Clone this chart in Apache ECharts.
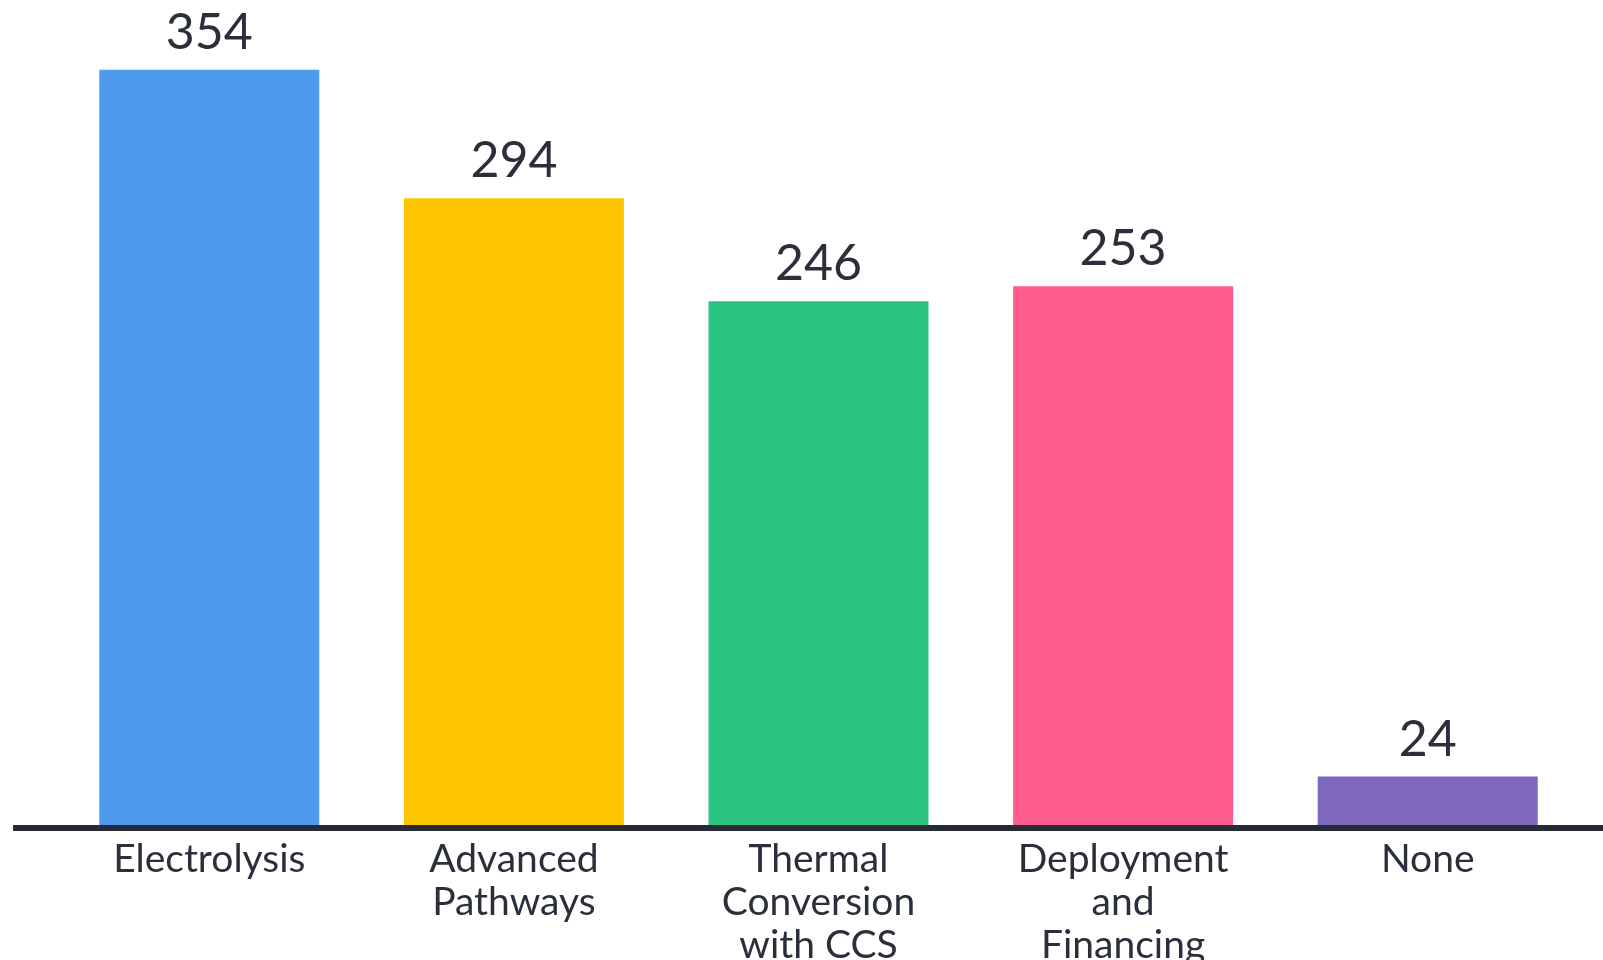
<!DOCTYPE html>
<html>
<head>
<meta charset="utf-8">
<script src="https://cdn.jsdelivr.net/npm/echarts@6/dist/echarts.min.js"></script>
<style>
html,body{margin:0;padding:0;background:#fff;}
#chart{width:1603px;height:960px;}
</style>
</head>
<body>
<div id="chart"></div>
<script>
const categories = ["Electrolysis", "Advanced\nPathways", "Thermal\nConversion\nwith CCS", "Deployment\nand\nFinancing", "None"];
const values = [354, 294, 246, 253, 24];
const barColors = ["#4e9aef", "#fdc500", "#2ac37f", "#ff5b8c", "#7d68bd"];

const textColor = "#2a2f3b";
const chart = echarts.init(document.getElementById('chart'));
chart.setOption({
  backgroundColor: '#ffffff',
  animation: false,
  grid: { left: 57, right: 23, top: 57, bottom: 132, containLabel: false, outerBoundsMode: 'none' },
  xAxis: {
    type: 'category',
    data: categories,
    axisLine: { show: false },
    axisTick: { show: false },
    axisLabel: {
      interval: 0,
      margin: 10,
      color: textColor,
      fontFamily: 'Lato',
      fontSize: 39,
      lineHeight: 43
    }
  },
  yAxis: {
    type: 'value',
    min: 0,
    max: 360,
    show: false,
    splitLine: { show: false }
  },
  series: [{
    type: 'bar',
    data: values.map((v, i) => ({ value: v, itemStyle: { color: barColors[i] } })),
    barWidth: 220,
    label: {
      show: true,
      position: 'top',
      distance: 12,
      color: textColor,
      fontFamily: 'Lato',
      fontSize: 50
    }
  }],
  graphic: [{
    type: 'line',
    z: 100,
    shape: { x1: 13, y1: 828, x2: 1603, y2: 828 },
    style: { stroke: '#262b36', lineWidth: 6 }
  }]
});
</script>
</body>
</html>
